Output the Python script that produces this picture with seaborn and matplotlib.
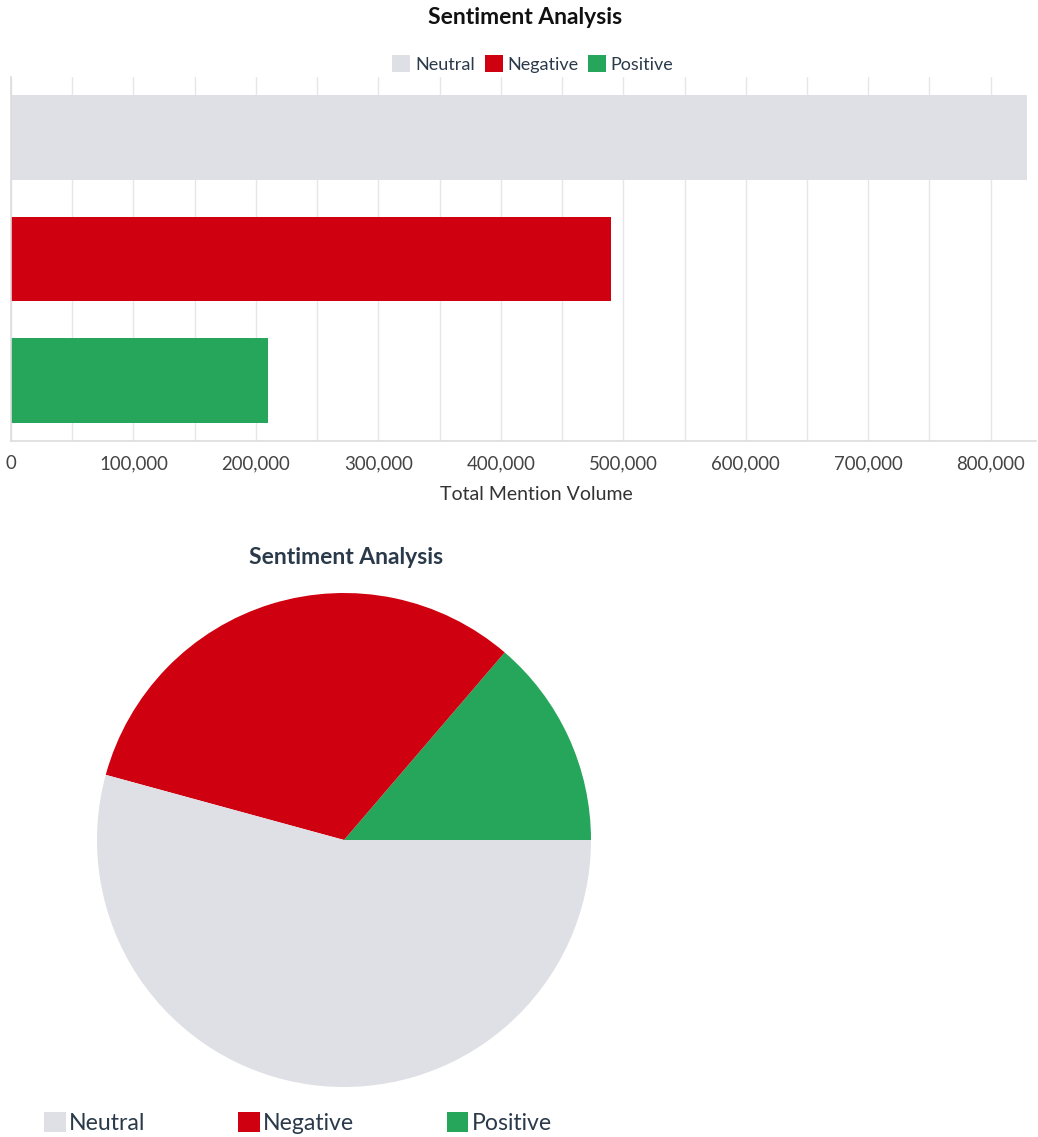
import matplotlib
matplotlib.use("Agg")
import matplotlib.pyplot as plt
from matplotlib.patches import Patch
from matplotlib.ticker import MultipleLocator, FuncFormatter
import seaborn as sns
import pandas as pd

# ---- data ----
sentiments = ["Neutral", "Negative", "Positive"]
mentions = [830000, 490000, 210000]
colors = ["#DFE0E5", "#CF0010", "#26A65B"]
x_tick_values = [0, 100000, 200000, 300000, 400000, 500000, 600000, 700000, 800000]
title_text = "Sentiment Analysis"
x_label = "Total Mention Volume"

sns.set_theme(style="white")
plt.rcParams["font.family"] = ["Lato", "DejaVu Sans"]

W, H = 1038, 1137
fig = plt.figure(figsize=(W / 100, H / 100), dpi=100)

# ---- top: horizontal bar chart ----
ax = fig.add_axes([11 / W, 1 - 441 / H, 1025 / W, 364 / H])
df = pd.DataFrame({"sentiment": sentiments, "value": mentions})
palette = dict(zip(sentiments, colors))
sns.barplot(data=df, x="value", y="sentiment", hue="sentiment", order=sentiments,
            hue_order=sentiments, palette=palette, width=0.7, legend=False,
            saturation=1, ax=ax, edgecolor="none")
ax.set_xlim(0, 837000)
ax.set_ylim(2.5, -0.5)
ax.set_xticks(x_tick_values)
ax.xaxis.set_minor_locator(MultipleLocator(50000))
ax.xaxis.set_major_formatter(FuncFormatter(lambda v, p: f"{v:,.0f}"))
ax.grid(axis="x", which="both", color="#E6E6E6", linewidth=1)
ax.set_axisbelow(True)
ax.set_yticks([1])
ax.set_yticklabels([""])
ax.tick_params(axis="y", length=11, width=0.8, color="#BBBBBB", direction="out")
ax.tick_params(axis="x", which="both", length=0, pad=10, labelsize=13.4, labelcolor="#444444")
ax.set_ylabel("")
ax.set_xlabel(x_label, fontsize=14, color="#333333")
ax.xaxis.set_label_coords((536 - 11) / 1025, -(486 - 441) / 364)
for s in ["top", "right"]:
    ax.spines[s].set_visible(False)
for s in ["left", "bottom"]:
    ax.spines[s].set_color("#DDDDDD")
    ax.spines[s].set_linewidth(1.2)

fig.text(525 / W, 1 - 18 / H, title_text, ha="center", va="center",
         fontsize=16.5, fontweight="bold", color="#111111")

handles = [Patch(facecolor=c, edgecolor="none", label=s) for s, c in zip(sentiments, colors)]
fig.legend(handles=handles, loc="center", bbox_to_anchor=(533 / W, 1 - 64 / H), ncol=3,
           frameon=False, fontsize=13, handlelength=1.0, handleheight=1.0,
           handletextpad=0.25, columnspacing=0.55, borderpad=0, labelcolor="#2B3A4A")

# ---- bottom: pie chart ----
r = 247
pax = fig.add_axes([(344 - r) / W, (H - 840 - r) / H, 2 * r / W, 2 * r / H])
pie_vals = mentions[::-1]
pie_cols = colors[::-1]
pax.pie(pie_vals, colors=pie_cols, startangle=0, counterclock=True, radius=1,
        wedgeprops=dict(linewidth=0))
pax.set_xlim(-1, 1)
pax.set_ylim(-1, 1)
pax.set_aspect("equal")
pax.axis("off")

fig.text(346 / W, 1 - 558 / H, title_text, ha="center", va="center",
         fontsize=16.5, fontweight="bold", color="#2B3A4A")

fig.legend(handles=handles, loc="center", bbox_to_anchor=(298 / W, 1 - 1123 / H), ncol=3,
           frameon=False, fontsize=16.6, handlelength=0.95, handleheight=0.95,
           handletextpad=0.15, columnspacing=4.0, borderpad=0, labelcolor="#2B3A4A")

fig.savefig("out.png", dpi=100)
